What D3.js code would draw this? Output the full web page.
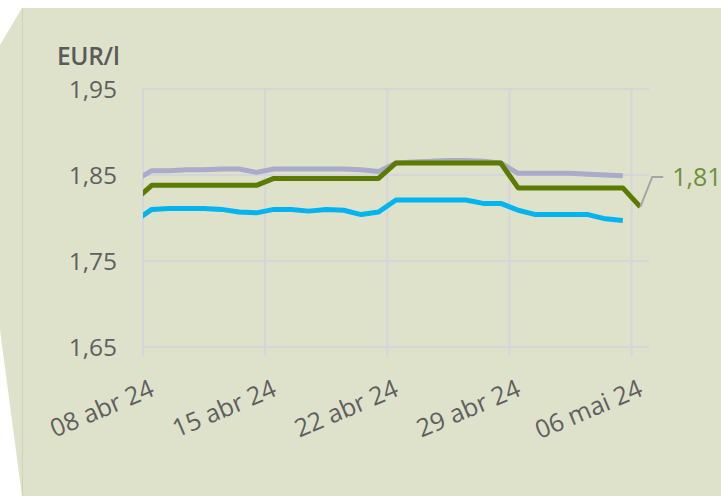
<!DOCTYPE html>
<html>
<head>
<meta charset="utf-8">
<script src="https://cdn.jsdelivr.net/npm/d3@7"></script>
<style>
  html, body { margin: 0; padding: 0; background: #ffffff; }
  svg { display: block; }
  text { font-family: "Open Sans", sans-serif; }
</style>
</head>
<body>
<svg id="chart" width="721" height="496"></svg>
<script>
// days from 07 abr 24 (only half visible at the left edge) to 06 mai 24
const firstDay = new Date(2024, 3, 7);
const lastDay = new Date(2024, 4, 6);
const days = d3.timeDay.range(firstDay, d3.timeDay.offset(lastDay, 1));

const tickLabels = ['08 abr 24', '15 abr 24', '22 abr 24', '29 abr 24', '06 mai 24'];
const yTicks = [1.65, 1.75, 1.85, 1.95];

// EUR/l, one value per day (index 0 = 07 abr)
const greyValues = [1.843, 1.855, 1.855, 1.856, 1.856, 1.857, 1.857, 1.853,
  1.857, 1.857, 1.857, 1.857, 1.857, 1.856, 1.854,
  1.864, 1.865, 1.866, 1.867, 1.867, 1.866, 1.864,
  1.852, 1.852, 1.852, 1.852, 1.851, 1.850, 1.849];
const greenValues = [1.820, 1.838, 1.838, 1.838, 1.838, 1.838, 1.838, 1.838,
  1.846, 1.846, 1.846, 1.846, 1.846, 1.846, 1.846,
  1.864, 1.864, 1.864, 1.864, 1.864, 1.864, 1.864,
  1.835, 1.835, 1.835, 1.835, 1.835, 1.835, 1.835, 1.813];
const blueValues = [1.796, 1.810, 1.811, 1.811, 1.811, 1.810, 1.807, 1.806,
  1.810, 1.810, 1.808, 1.810, 1.809, 1.804, 1.807,
  1.821, 1.821, 1.821, 1.821, 1.821, 1.817, 1.817,
  1.809, 1.804, 1.804, 1.804, 1.804, 1.799, 1.797];
const lastLabel = '1,81';

const svg = d3.select('#chart');
const plotL = 143, plotR = 649, plotT = 89, plotB = 347;

// background card
svg.append('path')
  .attr('d', 'M22,8 L721,8 L721,496 L22,496 L0,330 L0,45 Z')
  .attr('fill', '#dee2cb');
svg.append('line')
  .attr('x1', 22.5).attr('x2', 22.5).attr('y1', 8).attr('y2', 496)
  .attr('stroke', '#cdd6b3').attr('stroke-width', 1);

// index scale: each day sits in the middle of its slot
const x = d3.scaleLinear().domain([0.5, days.length - 0.5]).range([plotL, plotR]);
const y = d3.scaleLinear().domain([1.65, 1.95]).range([plotB, plotT]);

const gridColor = '#d5d6da';
const g = svg.append('g');

// horizontal grid
g.selectAll('.hgrid').data(yTicks).enter().append('line')
  .attr('x1', plotL).attr('x2', plotR)
  .attr('y1', d => y(d)).attr('y2', d => y(d))
  .attr('stroke', gridColor).attr('stroke-width', 2);

// vertical grid at week boundaries
const weekIdx = tickLabels.map((t, i) => 1 + i * 7);
g.selectAll('.vgrid').data(weekIdx).enter().append('line')
  .attr('x1', d => x(d - 0.5)).attr('x2', d => x(d - 0.5))
  .attr('y1', plotT).attr('y2', plotB + 9)
  .attr('stroke', gridColor).attr('stroke-width', 2);

// y tick labels
g.selectAll('.ylab').data(yTicks).enter().append('text')
  .attr('x', plotL - 26).attr('y', d => y(d))
  .attr('dy', '0.36em')
  .attr('text-anchor', 'end')
  .attr('font-size', 24.5)
  .attr('fill', '#5f5f5f')
  .text(d => d3.format('.2f')(d).replace('.', ','));

svg.append('text')
  .attr('x', 57).attr('y', 65)
  .attr('font-size', 24.5).attr('font-weight', 600)
  .attr('letter-spacing', -0.3)
  .attr('fill', '#5a5a5a')
  .text('EUR/l');

// x tick labels, rotated
g.selectAll('.xlab').data(weekIdx).enter().append('text')
  .attr('transform', d => `translate(${x(d) + 4},${plotB + 48}) rotate(-23)`)
  .attr('text-anchor', 'end')
  .attr('font-size', 25)
  .attr('fill', '#5f5f5f')
  .text((d, i) => tickLabels[i]);

// clip so the 07 abr point only shows as the start of the line
svg.append('clipPath').attr('id', 'plot')
  .append('rect').attr('x', plotL).attr('y', 0).attr('width', 721 - plotL).attr('height', 496);

const line = d3.line().x((d, i) => x(i)).y(d => y(d));
const lines = svg.append('g').attr('clip-path', 'url(#plot)');

lines.append('path').datum(greyValues)
  .attr('d', line).attr('fill', 'none')
  .attr('stroke', '#a9abc8').attr('stroke-width', 5)
  .attr('stroke-linejoin', 'round');
lines.append('path').datum(blueValues)
  .attr('d', line).attr('fill', 'none')
  .attr('stroke', '#00b4f0').attr('stroke-width', 5)
  .attr('stroke-linejoin', 'round');
lines.append('path').datum(greenValues)
  .attr('d', line).attr('fill', 'none')
  .attr('stroke', '#5b7c00').attr('stroke-width', 5)
  .attr('stroke-linejoin', 'round');

// label for the last green point with its leader line
const li = greenValues.length - 1;
const lx = x(li), ly = y(greenValues[li]);
const labY = y(1.85) + 2;
svg.append('path')
  .attr('d', `M${lx},${ly} L${lx + 12},${labY} L${lx + 23},${labY}`)
  .attr('fill', 'none').attr('stroke', '#a6a6a6').attr('stroke-width', 2);
svg.append('text')
  .attr('x', lx + 32).attr('y', labY)
  .attr('dy', '0.34em')
  .attr('font-size', 25)
  .attr('fill', '#6b9139')
  .text(lastLabel);
</script>
</body>
</html>
